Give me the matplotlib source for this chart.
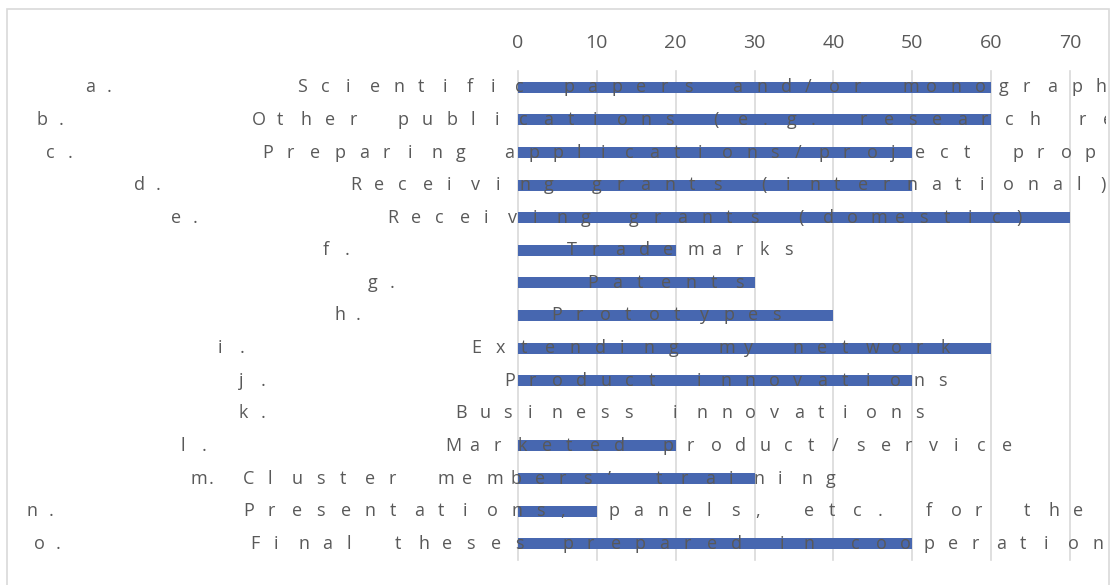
import numpy as np
import matplotlib
matplotlib.use('Agg')
import matplotlib.pyplot as plt
from matplotlib.transforms import blended_transform_factory, Bbox, TransformedBbox
from matplotlib.patches import Rectangle

# chart data
letters = ['a', 'b', 'c', 'd', 'e', 'f', 'g', 'h', 'i', 'j', 'k', 'l', 'm', 'n', 'o']
categories = [
    'Scientific papers and/or monographs',
    'Other publications (e.g. research reports)',
    'Preparing applications/project proposals',
    'Receiving grants (international)',
    'Receiving grants (domestic)',
    'Trademarks',
    'Patents',
    'Prototypes',
    'Extending my network',
    'Product innovations',
    'Business innovations',
    'Marketed product/service',
    'Cluster members\u2019 training',
    'Presentations, panels, etc. for the public',
    'Final theses prepared in cooperation',
]
values = [60, 60, 50, 50, 70, 20, 30, 40, 60, 50, 0, 20, 30, 10, 50]
x_ticks = [0, 10, 20, 30, 40, 50, 60, 70]

# layout of the stretched ("distributed") labels, in pixels
prefix_x = [85, 37, 46, 134, 171, 323, 368, 334, 218, 239, 239, 180, 191, 27, 34]
prefix_pitch = [22, 22, 22, 22, 22, 22, 22, 22, 22, 22, 22, 22, 18, 22, 22]
text_x = [297, 252, 262, 350, 387, 567, 587, 551, 471, 504, 455, 445, 243, 243, 250]
text_pitch = [24.2, 24.3, 24.2, 24.2, 24.2, 24.1, 24.7, 24.6, 24.7, 24.1, 24.2, 24.2, 24.3, 24.4, 24.06]

W, H = 1115, 585
grey = '#595959'
plt.rcParams['font.family'] = ['Open Sans', 'DejaVu Sans']

fig = plt.figure(figsize=(W / 100, H / 100), dpi=100)
ax = fig.add_axes([518 / W, (H - 560) / H, (1070 - 518) / W, (560 - 71) / H])

ypos = np.arange(len(values))
ax.barh(ypos, values, height=0.34, color='#4767B0', zorder=2)
ax.set_ylim(len(values) - 0.5, -0.5)
ax.set_xlim(0, 70)
ax.set_xticks(x_ticks)
ax.xaxis.tick_top()
ax.tick_params(axis='x', length=0, pad=14, labelsize=14, labelcolor=grey)
ax.set_yticks([])
for s in ax.spines.values():
    s.set_visible(False)
ax.grid(axis='x', color='#d9d9d9', linewidth=1.2, zorder=0)
ax.set_axisbelow(True)
for gl in ax.get_xgridlines():
    gl.set_clip_on(False)

# labels drawn letter by letter, clipped at the chart border
trans = blended_transform_factory(fig.transFigure, ax.transData)
clip = TransformedBbox(Bbox([[0, 0], [1106 / W, 1]]), fig.transFigure)
for i in range(len(values)):
    for j, ch in enumerate(letters[i] + '.'):
        fig.text((prefix_x[i] + j * prefix_pitch[i]) / W, i, ch, transform=trans,
                 ha='left', va='center', fontsize=13, color=grey, zorder=3)
    for j, ch in enumerate(categories[i]):
        x = text_x[i] + j * text_pitch[i]
        if ch == ' ' or x > 1104:
            continue
        t = fig.text(x / W, i, ch, transform=trans,
                     ha='left', va='center', fontsize=13, color=grey, zorder=3)
        t.set_clip_on(True)
        t.set_clip_box(clip)

# chart border
fig.patches.append(Rectangle((7 / W, -0.05), (1109 - 7) / W, (H - 9) / H + 0.05,
                             transform=fig.transFigure, fill=False,
                             edgecolor='#d9d9d9', linewidth=1.2))

plt.savefig('out.png', dpi=100)
